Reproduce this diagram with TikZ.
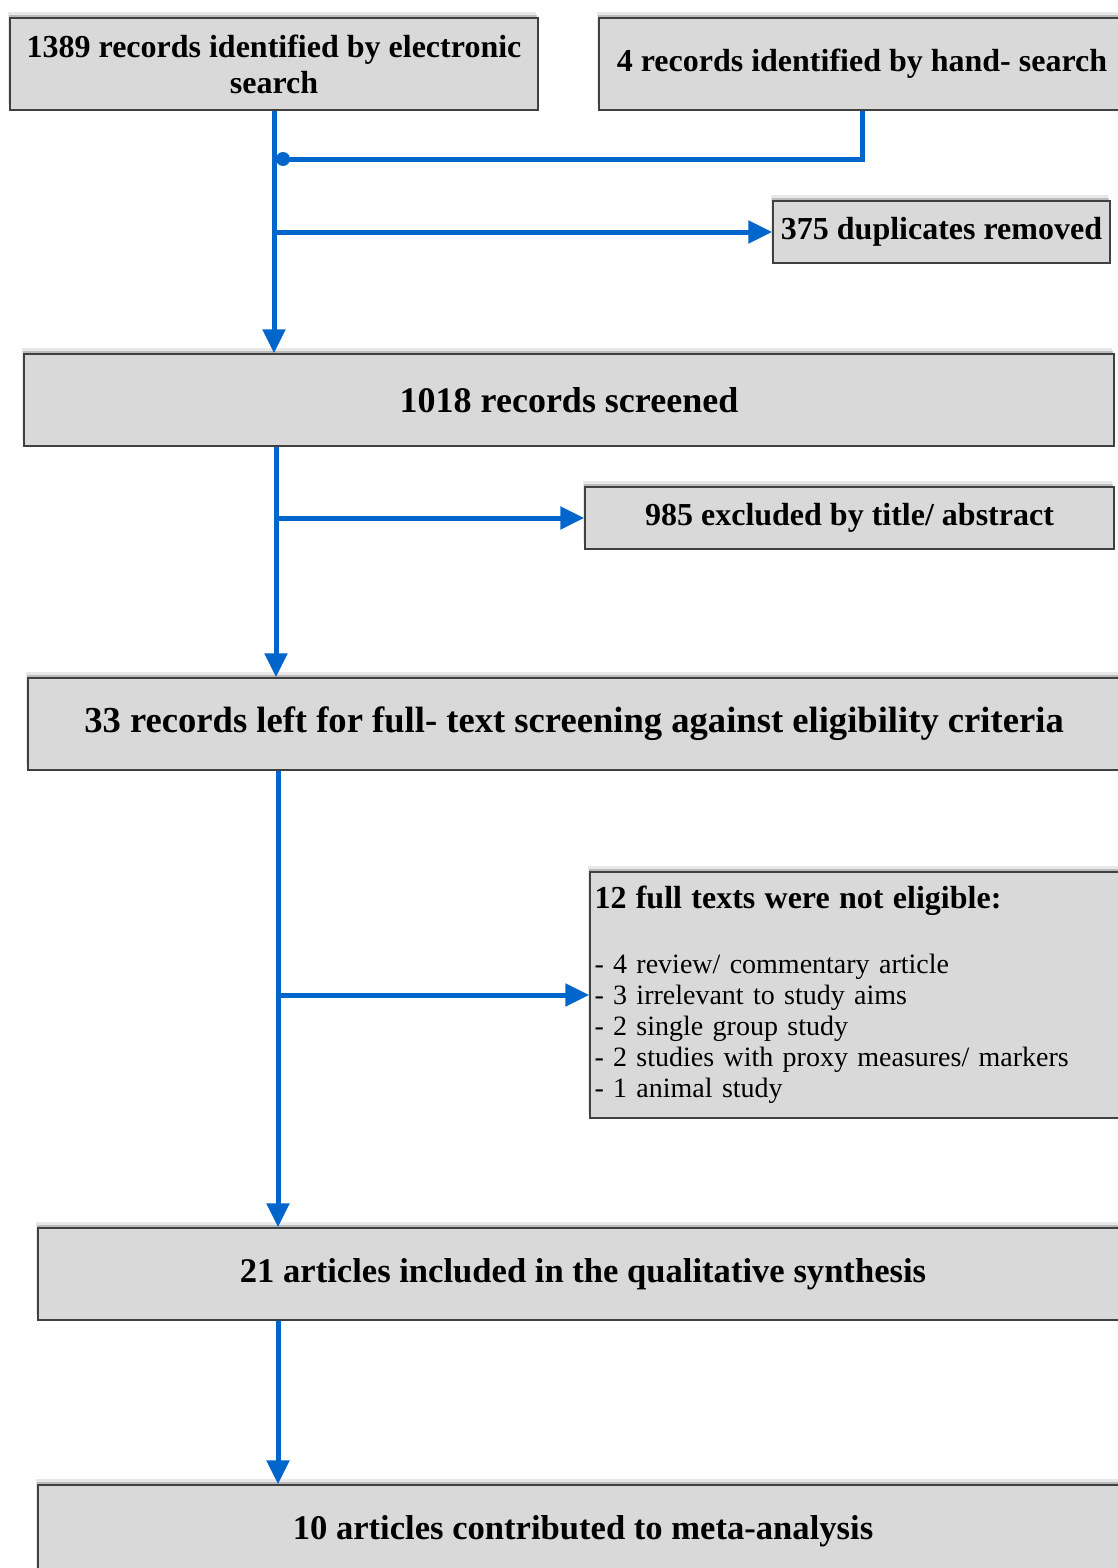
\documentclass[tikz,border=0pt]{standalone}
\usepackage{fontspec}
\setmainfont{Liberation Serif}
\usetikzlibrary{shadows,arrows.meta,calc}
\definecolor{flowblue}{RGB}{0,102,204}
\definecolor{boxgray}{RGB}{217,217,217}
\definecolor{edgegray}{RGB}{64,64,64}
\begin{document}
\begin{tikzpicture}[x=0.5pt,y=-0.5pt,
  box/.style={draw=edgegray, line width=0.7pt, fill=boxgray, rectangle, inner sep=0pt, align=center,
    drop shadow={shadow xshift=-0.5pt, shadow yshift=1.5pt, opacity=0.35, fill=black!60},
    drop shadow={shadow xshift=-1pt, shadow yshift=3pt, opacity=0.15, fill=black!60}},
  bigtxt/.style={font=\bfseries\fontsize{18}{21}\selectfont},
  smalltxt/.style={font=\bfseries\fontsize{16}{18}\selectfont},
  flowline/.style={draw=flowblue, line width=2.5pt},
  flowarrow/.style={flowline, -{Triangle[length=12pt,width=11pt]}},
]
\useasboundingbox (0,0) rectangle (1118,1568);
\clip (0,0) rectangle (1118,1568);

% boxes
\node[box, smalltxt, minimum width=264pt, minimum height=46pt] (b1) at (274,64)
  {1389 records identified by electronic\\search};
\node[box, smalltxt, minimum width=263pt, minimum height=46pt] (b2) at (862,64)
  {4 records identified by hand- search};
\node[box, smalltxt, minimum width=168.5pt, minimum height=31pt] (b3) at (941.5,232)
  {375 duplicates removed};
\node[box, bigtxt, minimum width=545pt, minimum height=46pt] (b4) at (569,400)
  {1018 records screened};
\node[box, smalltxt, minimum width=264.5pt, minimum height=31pt] (b5) at (849.5,518)
  {985 excluded by title/ abstract};
\node[box, font=\bfseries\fontsize{18.3}{21}\selectfont, minimum width=546pt, minimum height=46pt] (b6) at (574,724)
  {33 records left for full- text screening against eligibility criteria};
\node[box, align=left, minimum width=267.5pt, minimum height=123pt, text width=263pt,
  font=\fontsize{14}{15.5}\selectfont] (b7) at (857.5,995)
  {{\bfseries\fontsize{16}{18}\selectfont 12 full texts were not eligible:}\\[17pt]
   - 4 review/ commentary article\\
   - 3 irrelevant to study aims\\
   - 2 single group study\\
   - 2 studies with proxy measures/ markers\\
   - 1 animal study};
\node[box, font=\bfseries\fontsize{17.3}{21}\selectfont, minimum width=545pt, minimum height=46pt] (b8) at (583,1274)
  {21 articles included in the qualitative synthesis};
\node[box, font=\bfseries\fontsize{17.3}{21}\selectfont, minimum width=545pt, minimum height=46pt] (b9) at (583,1531)
  {10 articles contributed to meta-analysis};

% guide coordinates for connector columns
\coordinate (c1) at (274,0);
\coordinate (c2) at (276,0);
\coordinate (c3) at (278,0);
\coordinate (j1) at (283,159);

% connectors
\draw[flowarrow] (b1.south) -- (b1.south |- b4.north);
\draw[flowline] (b2.south) |- (j1);
\fill[flowblue] (j1) circle (3.5pt);
\draw[flowarrow] (c1 |- b3.west) -- (b3.west);

\draw[flowarrow] (c2 |- b4.south) -- (c2 |- b6.north);
\draw[flowarrow] (c2 |- b5.west) -- (b5.west);

\draw[flowarrow] (c3 |- b6.south) -- (c3 |- b8.north);
\draw[flowarrow] (c3 |- b7.west) -- (b7.west);

\draw[flowarrow] (c3 |- b8.south) -- (c3 |- b9.north);
\end{tikzpicture}
\end{document}
